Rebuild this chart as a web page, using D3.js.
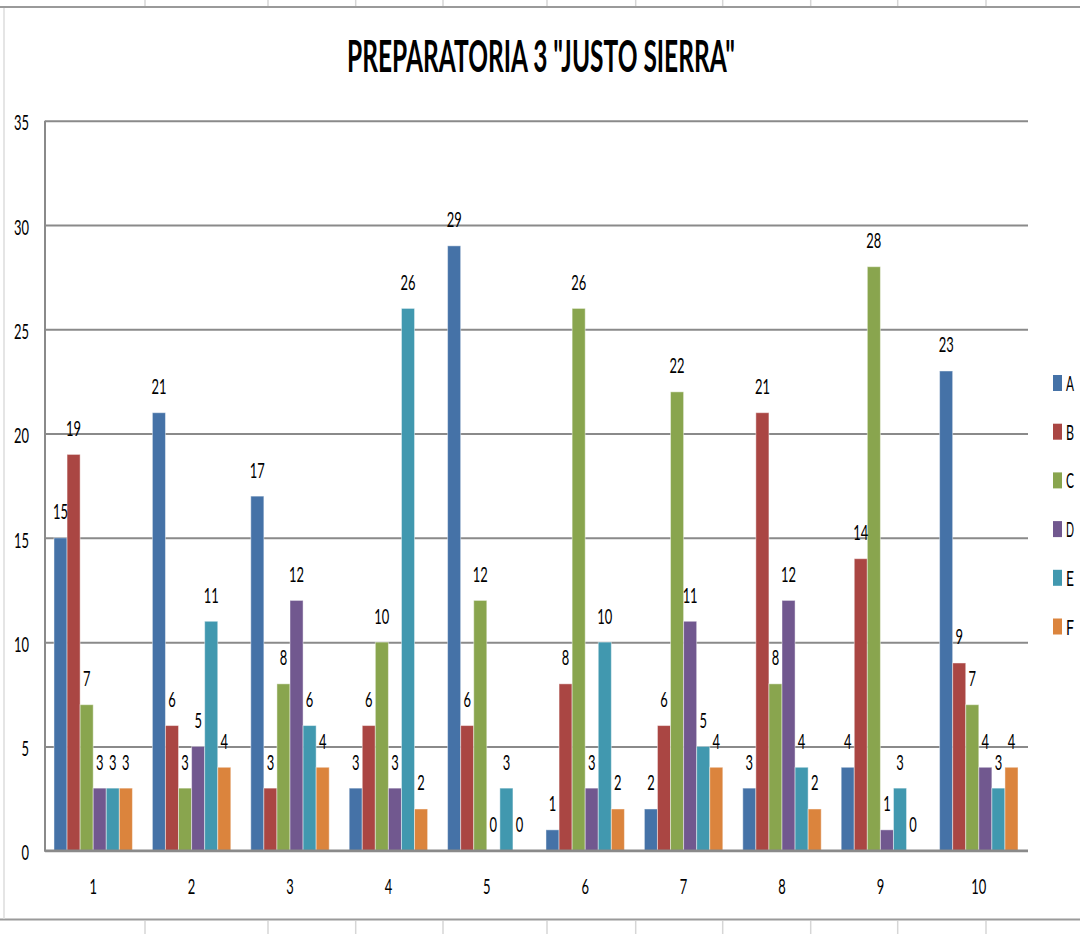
<!DOCTYPE html>
<html>
<head>
<meta charset="utf-8">
<script src="https://cdn.jsdelivr.net/npm/d3@7"></script>
<style>
html,body{margin:0;padding:0;background:#fff;}
svg{display:block;font-family:Lato,"Open Sans",sans-serif;}
</style>
</head>
<body>
<svg id="chart" width="1080" height="934"></svg>
<script>
const title = 'PREPARATORIA 3 "JUSTO SIERRA"';
const categories = ["1","2","3","4","5","6","7","8","9","10"];
const seriesNames = ["A","B","C","D","E","F"];
const A = [15,21,17,3,29,1,2,3,4,23];
const B = [19,6,3,6,6,8,6,21,14,9];
const C = [7,3,8,10,12,26,22,8,28,7];
const D = [3,5,12,3,0,3,11,12,1,4];
const E = [3,11,6,26,3,10,5,4,3,3];
const F = [3,4,4,2,0,2,4,2,0,4];
const yTicks = [0,5,10,15,20,25,30,35];
const colors = ["#4572A7","#AA4643","#89A54E","#71588F","#4198AF","#DB843D"];
const sheetCols = [145,268,355.7,443,547,635.7,722.7,810.7,897.7,986];

const seriesValues = [A,B,C,D,E,F];
const svg = d3.select("#chart");

// spreadsheet background
const bg = svg.append("g");
sheetCols.forEach(x=>{
  bg.append("line").attr("x1",x).attr("x2",x).attr("y1",0).attr("y2",6).attr("stroke","#d6d6d6").attr("stroke-width",1.5);
  bg.append("line").attr("x1",x).attr("x2",x).attr("y1",921).attr("y2",934).attr("stroke","#d6d6d6").attr("stroke-width",1.5);
});
bg.append("line").attr("x1",0).attr("x2",1080).attr("y1",7).attr("y2",7).attr("stroke","#9a9a9a").attr("stroke-width",2);
bg.append("line").attr("x1",0).attr("x2",1080).attr("y1",919.5).attr("y2",919.5).attr("stroke","#9a9a9a").attr("stroke-width",2);
bg.append("line").attr("x1",4).attr("x2",4).attr("y1",8).attr("y2",919).attr("stroke","#dcdcdc").attr("stroke-width",1.5);

const pLeft = 45, pRight = 1028, pTop = 120.7, pBottom = 850.7;
const y = d3.scaleLinear().domain([0,35]).range([pBottom, pTop]);
const x0 = d3.scaleBand().domain(categories).range([pLeft-1, pRight]).paddingInner(0.203).paddingOuter(0.1015);
const x1 = d3.scaleBand().domain(seriesNames).range([0, x0.bandwidth()]);

// title
svg.append("text").attr("x",541).attr("y",72).attr("text-anchor","middle")
  .attr("font-size",44).attr("font-weight",700).attr("fill","#000")
  .attr("textLength",388).attr("lengthAdjust","spacingAndGlyphs").text(title);

// y axis with gridlines
const yAxis = svg.append("g").attr("transform",`translate(${pLeft},0)`)
  .call(d3.axisLeft(y).tickValues(yTicks).tickSize(-(pRight-pLeft)).tickPadding(16));
yAxis.select(".domain").remove();
yAxis.selectAll(".tick line").attr("stroke","#8a8a8a").attr("stroke-width",2);
yAxis.selectAll(".tick text").attr("font-size",22).attr("fill","#000").attr("font-family","Lato")
  .attr("dy","0.42em")
  .attr("textLength",d=>String(d).length*7.5).attr("lengthAdjust","spacingAndGlyphs");

// bars
const groups = svg.append("g").selectAll("g").data(categories).join("g")
  .attr("transform",d=>`translate(${x0(d)},0)`);
groups.selectAll("rect").data((c,i)=>seriesNames.map((s,j)=>({s, v:seriesValues[j][i], j})))
  .join("rect")
  .attr("x",d=>x1(d.s)).attr("width",x1.bandwidth())
  .attr("y",d=>y(d.v)).attr("height",d=>pBottom-y(d.v))
  .attr("fill",d=>colors[d.j]).attr("stroke","#ffffff").attr("stroke-opacity",0.45).attr("stroke-width",1);
groups.selectAll("text").data((c,i)=>seriesNames.map((s,j)=>({s, v:seriesValues[j][i], j})))
  .join("text")
  .attr("x",d=>x1(d.s)+x1.bandwidth()/2).attr("y",d=>y(d.v)-18.5)
  .attr("text-anchor","middle").attr("font-size",22).attr("fill","#000")
  .attr("textLength",d=>String(d.v).length*7.5).attr("lengthAdjust","spacingAndGlyphs")
  .text(d=>d.v);

// axes lines
svg.append("line").attr("x1",pLeft).attr("x2",pLeft).attr("y1",pTop).attr("y2",pBottom+1).attr("stroke","#8a8a8a").attr("stroke-width",2);
const xAxis = svg.append("g").attr("transform",`translate(0,${pBottom})`)
  .call(d3.axisBottom(x0).tickSize(0).tickPadding(0));
xAxis.select(".domain").attr("stroke","#8a8a8a").attr("stroke-width",2.5).attr("d",`M${pLeft},0H${pRight}`);
xAxis.selectAll(".tick text").attr("font-size",22).attr("fill","#000").attr("font-family","Lato")
  .attr("y",43).attr("dy",0)
  .attr("textLength",d=>d.length*7.5).attr("lengthAdjust","spacingAndGlyphs");

// legend
const legend = svg.append("g").selectAll("g").data(seriesNames).join("g")
  .attr("transform",(d,i)=>`translate(1053,${383+i*48.7})`);
legend.append("rect").attr("x",0).attr("y",-8).attr("width",9).attr("height",16).attr("fill",(d,i)=>colors[i]);
legend.append("text").attr("x",13).attr("y",8).attr("font-size",22).attr("fill","#000")
  .attr("textLength",8).attr("lengthAdjust","spacingAndGlyphs").text(d=>d);
</script>
</body>
</html>
